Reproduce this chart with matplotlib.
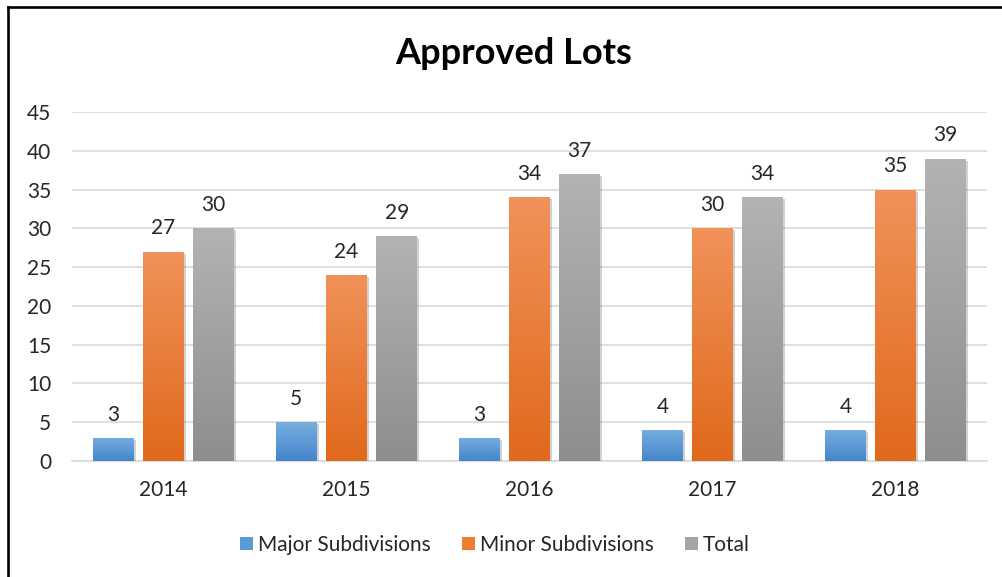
import numpy as np
import matplotlib
matplotlib.use("Agg")
import matplotlib.pyplot as plt
from matplotlib.patches import Patch
from matplotlib.lines import Line2D
from matplotlib.colors import LinearSegmentedColormap
import matplotlib.patheffects as pe

plt.rcParams['font.family'] = ['Lato', 'DejaVu Sans']

years = ['2014', '2015', '2016', '2017', '2018']
series_names = ['Major Subdivisions', 'Minor Subdivisions', 'Total']
major = [3, 5, 3, 4, 4]
minor = [27, 24, 34, 30, 35]
total = [30, 29, 37, 34, 39]
yticks = [0, 5, 10, 15, 20, 25, 30, 35, 40, 45]

base_colors = ['#5B9BD5', '#ED7D31', '#A5A5A5']
# (bottom colour, top colour)
grad_colors = [('#4485CA', '#78AEE0'), ('#E0691B', '#F1925A'), ('#8E8E8E', '#B3B3B3')]

W, H = 1003, 577
fig = plt.figure(figsize=(W / 100, H / 100), dpi=100)
ax = fig.add_axes([72 / W, 116 / H, (987 - 72) / W, 349 / H])

x = np.arange(len(years))
width = 0.224
offset = 0.274
data = [major, minor, total]

grad = np.linspace(0, 1, 256).reshape(-1, 1)
for i, (vals, name) in enumerate(zip(data, series_names)):
    bars = ax.bar(x + (i - 1) * offset, vals, width, color=base_colors[i], label=name, zorder=3,
                  path_effects=[pe.SimplePatchShadow(offset=(1.5, -1.5), shadow_rgbFace='#808080', alpha=0.35), pe.Normal()])
    cmap = LinearSegmentedColormap.from_list('g%d' % i, [grad_colors[i][0], grad_colors[i][1]])
    for b, v in zip(bars, vals):
        x0, y0 = b.get_x(), b.get_y()
        im = ax.imshow(grad, cmap=cmap, extent=(x0, x0 + b.get_width(), y0, y0 + b.get_height()),
                       aspect='auto', zorder=4, origin='lower')
        im.set_clip_path(b)
        ax.annotate(str(v), (b.get_x() + b.get_width() / 2, v), xytext=(0, 9.5), textcoords='offset points',
                    ha='center', va='bottom', fontsize=15, color='#262626', zorder=5)

ax.set_xlim(-0.5, 4.5)
ax.set_ylim(0, 45)
ax.set_yticks(yticks)
ax.set_xticks(x)
ax.set_xticklabels(years)
ax.tick_params(axis='both', length=0, labelsize=15, labelcolor='#262626')
ax.tick_params(axis='y', pad=15)
ax.tick_params(axis='x', pad=14)
ax.grid(axis='y', color='#D9D9D9', linewidth=1.2, zorder=0)
ax.set_axisbelow(True)
for s in ['top', 'right', 'left']:
    ax.spines[s].set_visible(False)
ax.spines['bottom'].set_color('#D9D9D9')
ax.spines['bottom'].set_linewidth(1.2)

fig.text(514 / W, 1 - 64.5 / H, 'Approved Lots', ha='center', va='baseline', fontsize=26, fontweight='bold', color='black')

handles = [Patch(facecolor=c, edgecolor='none') for c in base_colors]
fig.legend(handles, series_names, loc='center', bbox_to_anchor=(495 / W, 1 - 545 / H), ncol=3, frameon=False,
           fontsize=15, handlelength=0.62, handleheight=0.62, handletextpad=0.25, columnspacing=1.5,
           labelcolor='#262626')

fig.add_artist(Line2D([8 / W, 8 / W], [0, 1 - 7 / H], transform=fig.transFigure, color='black', linewidth=1.9))
fig.add_artist(Line2D([8 / W, 1], [1 - 7 / H, 1 - 7 / H], transform=fig.transFigure, color='black', linewidth=1.9))

fig.savefig('out.png', dpi=100)
